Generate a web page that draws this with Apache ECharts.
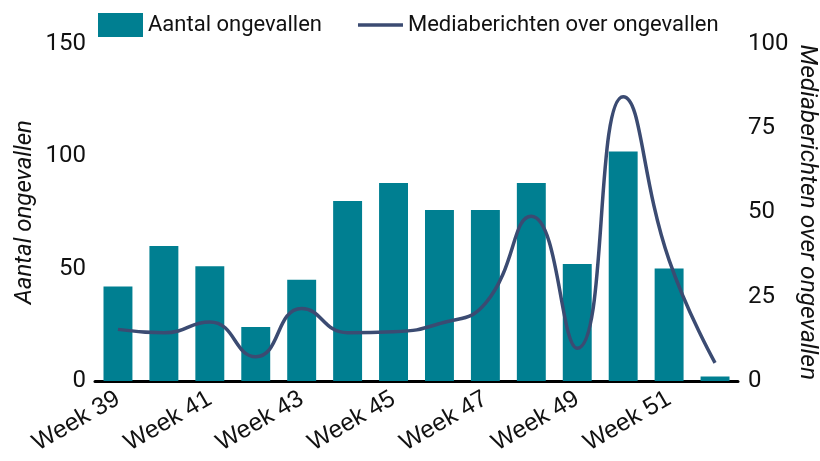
<!DOCTYPE html>
<html>
<head>
<meta charset="utf-8">
<script src="https://cdn.jsdelivr.net/npm/echarts@6/dist/echarts.min.js"></script>
<style>
  html, body { margin: 0; padding: 0; background: #fff; }
  #chart { width: 820px; height: 461px; }
</style>
</head>
<body>
<div id="chart"></div>
<script>
const weeks = ['Week 39', 'Week 40', 'Week 41', 'Week 42', 'Week 43', 'Week 44', 'Week 45',
  'Week 46', 'Week 47', 'Week 48', 'Week 49', 'Week 50', 'Week 51', 'Week 52']
const accidents = [42, 60, 51, 24, 45, 80, 88, 76, 76, 88, 52, 102, 50, 2]
const mediaReports = [15.3, 14.3, 17.5, 7.2, 21.5, 14.3, 14.6, 17, 23, 48.8, 9.7, 84.2, 35.8, 5.4]
const leftTicks = [0, 50, 100, 150]
const rightTicks = [0, 25, 50, 75, 100]

const font = 'Roboto'
const chart = echarts.init(document.getElementById('chart'))

chart.setOption({
  animation: false,
  textStyle: { fontFamily: font },
  legend: {
    top: 8,
    left: 93,
    itemGap: 36,
    itemWidth: 45,
    itemHeight: 24,
    textStyle: { fontSize: 22, color: '#111', fontFamily: font },
    data: [
      { name: 'Aantal ongevallen', icon: 'rect' },
      // thin bar for the line entry, the two moves keep the full box height
      { name: 'Mediaberichten over ongevallen', icon: 'path://M0,0 M0,24 M0,10.3 L45,10.3 L45,13.7 L0,13.7 Z' }
    ]
  },
  grid: {
    left: 95,
    right: 82,
    top: 43.5,
    bottom: 80,
    outerBoundsMode: 'none'
  },
  xAxis: [{
    type: 'category',
    data: weeks,
    axisLine: { lineStyle: { color: '#000', width: 3 } },
    axisTick: { show: false },
    axisLabel: {
      interval: 1,
      rotate: 30,
      fontSize: 24.5,
      fontFamily: 'Liberation Sans',
      color: '#111',
      margin: 16
    }
  }],
  yAxis: [{
    type: 'value',
    min: leftTicks[0],
    max: leftTicks[leftTicks.length - 1],
    interval: 50,
    name: 'Aantal ongevallen',
    nameLocation: 'middle',
    nameGap: 58,
    nameMoveOverlap: false,
    nameRotate: 90,
    nameTextStyle: { fontSize: 24, fontStyle: 'italic', color: '#111' },
    splitLine: { show: false },
    axisLine: { show: false },
    axisTick: { show: false },
    axisLabel: { fontSize: 24, color: '#111', margin: 9 }
  }, {
    type: 'value',
    min: rightTicks[0],
    max: rightTicks[rightTicks.length - 1],
    interval: 25,
    name: 'Mediaberichten over ongevallen',
    nameLocation: 'middle',
    nameGap: 57,
    nameMoveOverlap: false,
    nameRotate: -90,
    nameTextStyle: { fontSize: 24.5, fontStyle: 'italic', color: '#111' },
    splitLine: { show: false },
    axisLine: { show: false },
    axisTick: { show: false },
    axisLabel: { fontSize: 24, color: '#111', margin: 10 }
  }],
  series: [{
    name: 'Aantal ongevallen',
    type: 'bar',
    yAxisIndex: 0,
    barWidth: '63%',
    itemStyle: { color: '#007F91' },
    data: accidents
  }, {
    name: 'Mediaberichten over ongevallen',
    type: 'line',
    yAxisIndex: 1,
    smooth: 0.5,
    symbol: 'none',
    lineStyle: { color: '#3B4B72', width: 3.5 },
    itemStyle: { color: '#3B4B72' },
    data: mediaReports
  }]
})
</script>
</body>
</html>
